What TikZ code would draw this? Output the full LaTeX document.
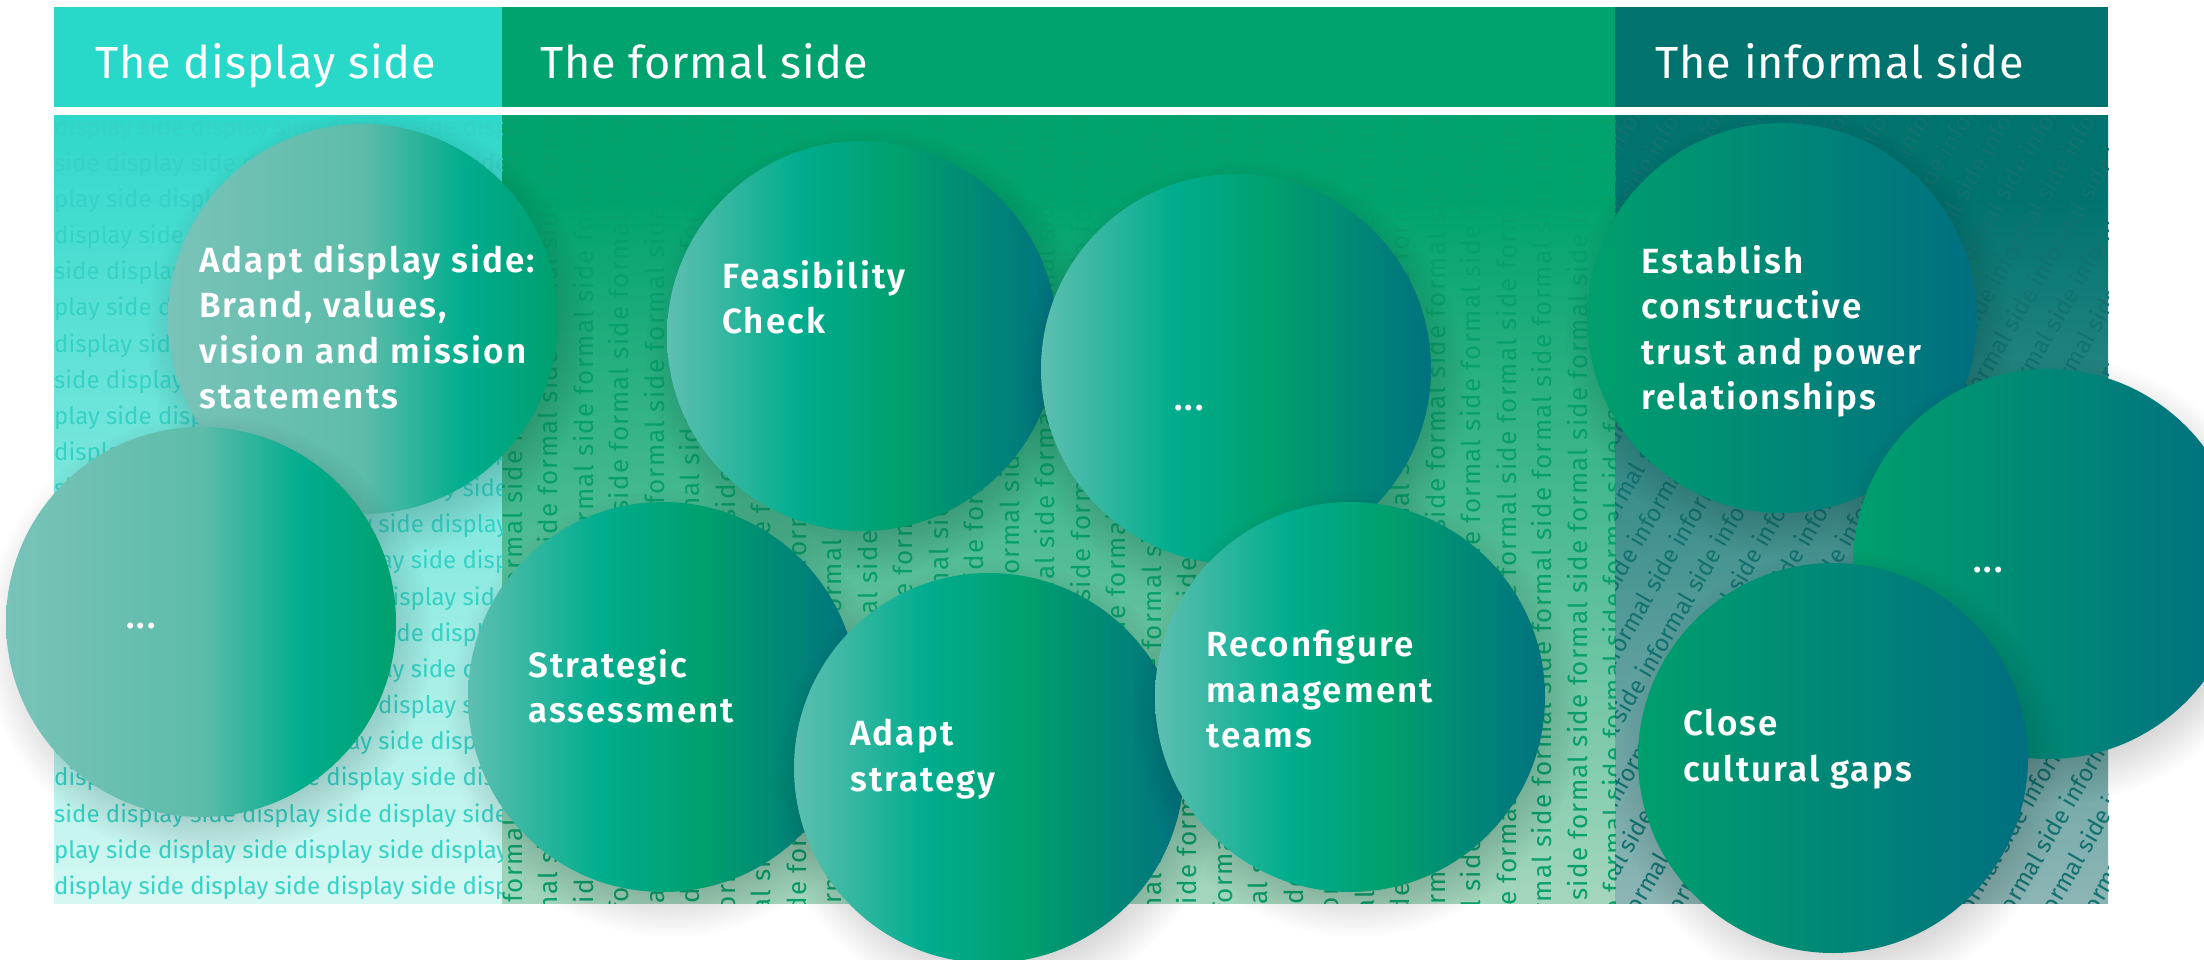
\documentclass[tikz,border=0pt]{standalone}
\usepackage{fontspec}
\setmainfont{Fira Sans}
\newfontfamily\ballfont{Fira Sans}[UprightFont={* SemiBold}, LetterSpace=6]
\newfontfamily\headfont{Fira Sans}[LetterSpace=2]
\newfontfamily\dispfont{Fira Sans}
\newfontfamily\formfont{Fira Sans}[LetterSpace=5]
\usetikzlibrary{fadings}

\definecolor{dispHead}{HTML}{28D9CA}
\definecolor{dispTop}{HTML}{2ED8CA}
\definecolor{dispBot}{HTML}{D6F8F3}
\definecolor{dispText}{HTML}{36D2C5}
\definecolor{formHead}{HTML}{00A36D}
\definecolor{formBot}{HTML}{A4D6BD}
\definecolor{formText}{HTML}{07A06B}
\definecolor{infHead}{HTML}{00736E}
\definecolor{infBot}{HTML}{8DB5B5}
\definecolor{infText}{HTML}{127270}
\definecolor{ballGrey}{HTML}{79C3B9}
\definecolor{ballMid}{HTML}{5DBCAA}
\definecolor{ballLight}{HTML}{5EBFB1}
\definecolor{ballTeal}{HTML}{00AD8E}
\definecolor{ballGreen}{HTML}{009F6D}
\definecolor{ballDark}{HTML}{00727F}
\definecolor{ballDeep}{HTML}{006F80}

% circle fills, left to right
\pgfdeclarehorizontalshading{displayball}{100bp}{color(0bp)=(ballGrey); color(25bp)=(ballGrey); color(50bp)=(ballMid); color(63bp)=(ballTeal); color(75bp)=(ballGreen); color(100bp)=(ballGreen)}
\pgfdeclarehorizontalshading{formalball}{100bp}{color(0bp)=(ballLight); color(25bp)=(ballLight); color(42bp)=(ballTeal); color(55bp)=(ballGreen); color(75bp)=(ballDark); color(100bp)=(ballDark)}
\pgfdeclarehorizontalshading{informalball}{100bp}{color(0bp)=(ballGreen); color(25bp)=(ballGreen); color(75bp)=(ballDeep); color(100bp)=(ballDeep)}
% column backgrounds, bottom to top
\pgfdeclareverticalshading{displaybg}{100bp}{color(0bp)=(dispBot); color(25bp)=(dispBot); color(75bp)=(dispTop); color(100bp)=(dispTop)}
\pgfdeclareverticalshading{formalbg}{100bp}{color(0bp)=(formBot); color(25bp)=(formBot); color(69.7bp)=(formHead); color(100bp)=(formHead)}
\pgfdeclareverticalshading{informalbg}{100bp}{color(0bp)=(infBot); color(25bp)=(infBot); color(69.7bp)=(infHead); color(100bp)=(infHead)}
% soft shadow under the circles
\pgfdeclareradialshading{softedge}{\pgfpointorigin}{color(0bp)=(pgftransparent!0); color(14bp)=(pgftransparent!0); color(25bp)=(pgftransparent!100); color(50bp)=(pgftransparent!100)}
\pgfdeclarefading{ballfade}{\pgfuseshading{softedge}}

\newcommand{\dispA}{display side display side display side display side display side}
\newcommand{\dispB}{side display side display side display side display side}
\newcommand{\dispC}{play side display side display side display side display side}
\newcommand{\formline}{formal side formal side formal side formal side formal side formal side formal side formal side}
\newcommand{\infline}{informal side informal side informal side informal side informal side informal side informal side informal side informal side informal side}

\begin{document}
\begin{tikzpicture}[x=1pt, y=-1pt,
  ball/.style={circle, minimum size=390, inner sep=0},
  ballshadow/.style={fill=black, fill opacity=0.32, path fading=ballfade},
  balltext/.style={text=white, align=left, anchor=north west, inner sep=0,
    font=\ballfont\fontsize{35}{45.5}\selectfont},
  headtext/.style={text=white, anchor=base west, inner sep=0, font=\headfont\fontsize{45}{50}\selectfont},
  texture/.style={inner sep=0}]

\useasboundingbox (0,0) rectangle (2204,960);
\fill[white] (0,0) rectangle (2204,960);

% column backgrounds
\shade[shading=displaybg] (54,116) rectangle (502,903);
\shade[shading=formalbg] (502,116) rectangle (1615,903);
\shade[shading=informalbg] (1615,116) rectangle (2108,903);

% written textures
\begin{scope}
\clip (54,116) rectangle (502,903);
\foreach \r in {0,...,24} {
  \pgfmathtruncatemacro\m{mod(\r,3)}
  \node[texture, text=dispText, anchor=base west, font=\dispfont\fontsize{24}{24}\selectfont]
    (drow\r) at (54, {26.7+36.15*\r}) {\ifcase\m\dispA\or\dispB\else\dispC\fi};
}
\end{scope}
\begin{scope}
\clip (502,116) rectangle (1615,903);
\foreach \c in {0,...,31} {
  \pgfmathsetmacro\drop{mod(\c*53,150)}
  \node[texture, text=formText, rotate=90, anchor=base west, font=\formfont\fontsize{26}{26}\selectfont]
    (fcol\c) at ({522+35.5*\c}, {903+\drop}) {\formline};
}
\end{scope}
\begin{scope}
\clip (1615,116) rectangle (2108,903);
\foreach \k in {0,...,28} {
  \node[texture, text=infText, rotate=60, anchor=base west, font=\dispfont\fontsize{24}{24}\selectfont]
    (iline\k) at ({1000+41.6*\k}, 940) {\infline};
}
\end{scope}

% header band
\fill[dispHead] (54,7) rectangle (502,107);
\fill[formHead] (502,7) rectangle (1615,107);
\fill[infHead] (1615,7) rectangle (2108,107);
\node[headtext] (hdisp) at (95,79) {The display side};
\node[headtext] (hform) at (540,79) {The formal side};
\node[headtext] (hinf) at (1655,79) {The informal side};

% circles, back to front
\foreach \id/\cx/\cy/\ballfill in {adaptdisp/363/319/displayball, dispdots/201/622/displayball,
    feas/862/336/formalball, formdots/1236/369/formalball, assess/663/697/formalball,
    adaptstrat/989/768/formalball, reconf/1350/697/formalball,
    trust/1782/318/informalball, infdots/2048/564/informalball, gaps/1833/758/informalball} {
  \path[ballshadow] ({\cx+7}, {\cy+16}) circle (224);
  \node[ball, shading=\ballfill] (\id) at (\cx,\cy) {};
}

% circle labels
\node[balltext] (tadaptdisp) at (199,244) {Adapt display side:\\Brand, values,\\vision and mission\\statements};
\node[balltext, anchor=base west] (tdispdots) at (126,628) {...};
\node[balltext] (tfeas) at (722,260) {Feasibility\\Check};
\node[balltext, anchor=base west] (tformdots) at (1174,410) {...};
\node[balltext] (tassess) at (528,649) {Strategic\\assessment};
\node[balltext] (tadaptstrat) at (850,719) {Adapt\\strategy};
\node[balltext] (treconf) at (1206,630) {Reconfigure\\management\\teams};
\node[balltext] (ttrust) at (1641,245) {Establish\\constructive\\trust and power\\relationships};
\node[balltext, anchor=base west] (tinfdots) at (1973,572) {...};
\node[balltext] (tgaps) at (1683,709) {Close\\cultural gaps};
\end{tikzpicture}
\end{document}
